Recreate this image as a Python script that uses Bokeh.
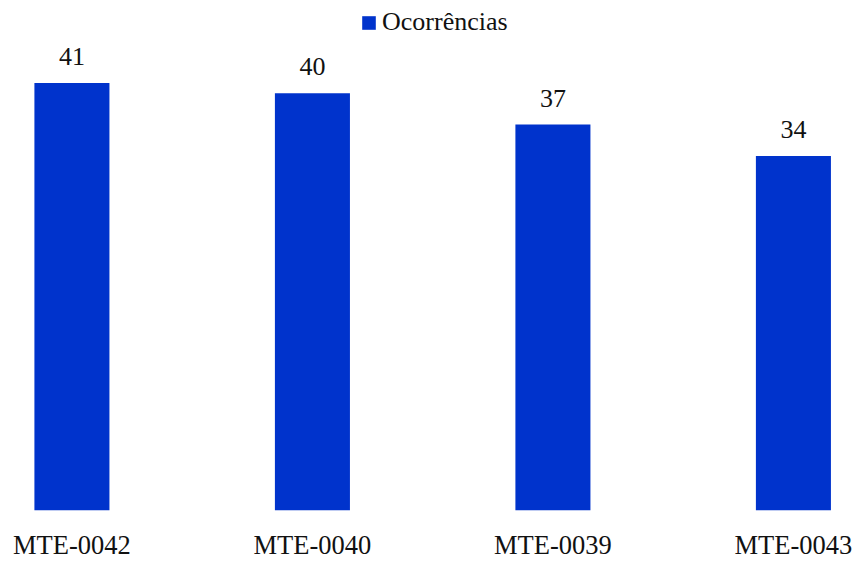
from bokeh.plotting import figure
from bokeh.models import ColumnDataSource, LabelSet, Range1d, FixedTicker, Legend, LegendItem
from bokeh.embed import file_html
from bokeh.resources import INLINE

categories = ["MTE-0042", "MTE-0040", "MTE-0039", "MTE-0043"]
ocorrencias = [41, 40, 37, 34]
series_name = "Ocorrências"

FONT = "Liberation Serif"
BAR_COLOR = "#0033cc"
TEXT_COLOR = "#111111"

positions = list(range(len(categories)))
source = ColumnDataSource(dict(
    x=positions,
    top=ocorrencias,
    label=[str(v) for v in ocorrencias],
))

p = figure(
    width=854, height=562,
    x_range=Range1d(-0.297, 3.254),
    y_range=Range1d(0, 48.9),
    output_backend="svg", toolbar_location=None,
    min_border_left=0, min_border_right=0, min_border_top=0, min_border_bottom=45,
)
p.outline_line_color = None
p.grid.visible = False
p.yaxis.visible = False

bars = p.vbar(x="x", top="top", bottom=0, width=0.312, source=source,
              fill_color=BAR_COLOR, line_color=None)

# value labels above each bar
labels = LabelSet(x="x", y="top", text="label", source=source,
                  text_align="center", text_baseline="alphabetic", y_offset=18,
                  text_font=FONT, text_font_size="26px", text_color=TEXT_COLOR)
p.add_layout(labels)

ax = p.xaxis[0]
ax.ticker = FixedTicker(ticks=positions)
ax.major_label_overrides = {i: c for i, c in enumerate(categories)}
ax.axis_line_color = None
ax.major_tick_line_color = None
ax.minor_tick_line_color = None
ax.major_tick_out = 0
ax.major_label_standoff = 19
ax.major_label_text_font = FONT
ax.major_label_text_font_size = "26.5px"
ax.major_label_text_color = TEXT_COLOR

legend = Legend(items=[LegendItem(label=series_name, renderers=[bars])],
                location=(360, 473), orientation="horizontal",
                border_line_color=None, background_fill_alpha=0,
                glyph_width=17, glyph_height=17, label_standoff=5,
                padding=0, margin=0,
                label_text_font=FONT, label_text_font_size="26px",
                label_text_color=TEXT_COLOR)
p.add_layout(legend)

open("out.html", "w").write(file_html(p, INLINE))
